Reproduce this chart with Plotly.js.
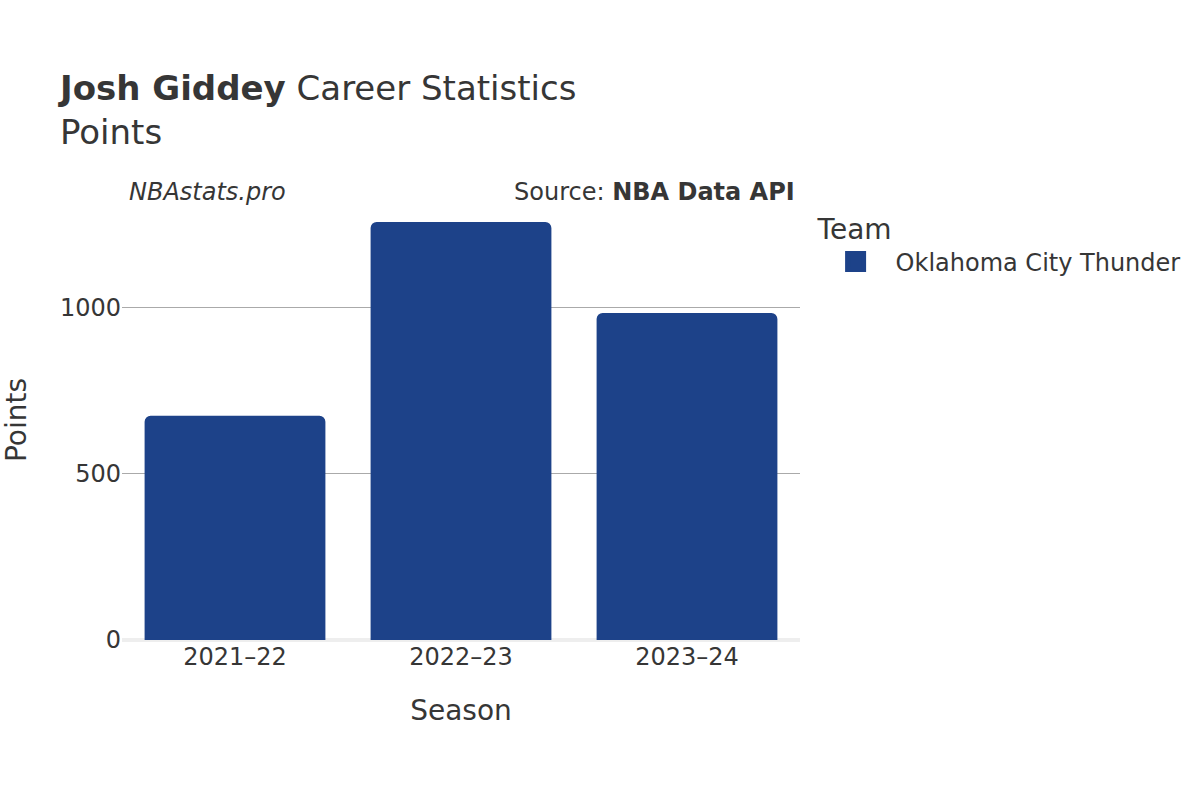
<!DOCTYPE html>
<html>
<head>
<meta charset="utf-8">
<script src="https://cdn.plot.ly/plotly-3.0.1.min.js"></script>
<style>body{margin:0;}#plot{width:1200px;height:800px;}</style>
</head>
<body>
<div id="plot"></div>
<script>
// season totals
let seasons = ['2021–22', '2022–23', '2023–24'];
let points = [675, 1259, 985];
let team = 'Oklahoma City Thunder';
let teamColor = '#1d4289';

let trace1 = {
    x: seasons,
    y: points,
    name: team,
    legendgroup: team,
    showlegend: false,
    type: 'bar',
    marker: {
        color: teamColor,
        cornerradius: 6
    }
};

// legend-only entry, so the swatch is drawn as big as in the original
let trace2 = {
    x: [seasons[0]],
    y: [null],
    name: team,
    legendgroup: team,
    type: 'scatter',
    mode: 'markers',
    hoverinfo: 'skip',
    marker: {
        symbol: 'square',
        size: 16,
        color: teamColor,
        line: {color: teamColor, width: 5}
    }
};

let layout = {
    width: 1200,
    height: 800,
    font: {family: 'DejaVu Sans, sans-serif', color: '#363636'},
    title: {
        text: '<b>Josh Giddey</b> Career Statistics<br>Points',
        font: {size: 34},
        xref: 'container', yref: 'container',
        x: 0.05, xanchor: 'left',
        y: 0.875, yanchor: 'middle'
    },
    margin: {l: 122, r: 400, t: 200, b: 160},
    bargap: 0.2,
    xaxis: {
        title: {text: 'Season', font: {size: 28}, standoff: 30},
        tickfont: {size: 24}
    },
    yaxis: {
        title: {text: 'Points', font: {size: 28}, standoff: 28},
        tickfont: {size: 24},
        gridcolor: '#aaaaaa',
        zerolinecolor: '#eeeeee',
        zerolinewidth: 4,
        tickvals: [0, 500, 1000],
        range: [0, 1325]
    },
    showlegend: true,
    legend: {
        title: {text: 'Team', font: {size: 28}},
        font: {size: 24},
        itemwidth: 70,
        x: 1.023, xanchor: 'left',
        y: 0.993, yanchor: 'top'
    },
    annotations: [
        {
            text: '<i>NBAstats.pro</i>',
            xref: 'paper', yref: 'paper',
            x: 0.008, xanchor: 'left', y: 1.018, yanchor: 'middle',
            showarrow: false, font: {size: 24}
        },
        {
            text: 'Source: <b>NBA Data API</b>',
            xref: 'paper', yref: 'paper',
            x: 0.995, xanchor: 'right', y: 1.018, yanchor: 'middle',
            showarrow: false, font: {size: 24}
        }
    ]
};

Plotly.newPlot('plot', [trace1, trace2], layout, {displayModeBar: false});
</script>
</body>
</html>
